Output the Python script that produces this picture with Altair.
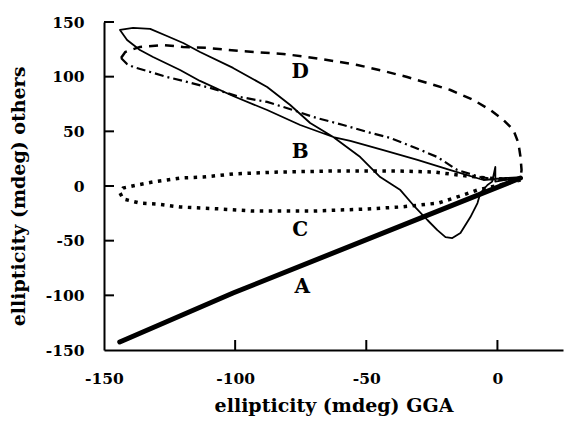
import altair as alt
import pandas as pd

# ---- data ----
A_x = [-144.0, -100.8, 8.8]
A_y = [-142.7, -97.9, 7.3]

# B: thin solid loop (right end -> spike -> dip -> upper branch -> tip -> lower branch -> right end)
B_x = [9.0, -0.8, -0.8, -2.0, -3.8, -6.5, -7.6, -10.3, -14.1, -17.2, -19.8, -22.9, -26.7, -32.1,
       -37.0, -44.7, -52.3, -62.6, -71.4, -79.0, -87.8, -100.8, -113.4, -119.8, -126.0, -132.4,
       -138.9, -143.9,
       -141.2, -136.3, -131.3, -121.0, -113.4, -100.8, -87.8, -75.2, -62.6, -56.1, -43.5, -30.5,
       -17.9, -5.3, 3.1, 9.0]
B_y = [8.0, 4.0, 17.4, 4.0, 0.9, -6.4, -15.6, -28.4, -43.0, -47.6, -46.7, -40.3, -31.1, -17.4,
       -3.7, 8.2, 26.5, 44.8, 57.6, 74.1, 90.6, 108.0, 122.6, 130.8, 137.2, 143.7,
       144.6, 142.7,
       133.6, 124.4, 118.0, 106.1, 96.1, 82.3, 69.5, 55.8, 44.8, 41.2, 32.9, 23.8,
       14.6, 5.5, 7.3, 8.0]

# C: dotted flat ellipse
C_x = [8.8, -3.8, -11.5, -24.4, -37.0, -62.6, -82.8, -100.8, -112.2, -121.0, -126.0, -131.3,
       -137.4, -142.7, -143.9, -142.7, -136.3, -129.8, -121.0, -105.7, -93.1, -70.2, -49.6,
       -37.0, -22.5, -13.0, -7.6, 1.1, 8.8]
C_y = [5.5, 7.3, 9.1, 12.8, 13.7, 13.7, 12.8, 11.0, 8.2, 7.3, 5.5, 3.7,
       0.9, -1.8, -6.4, -11.9, -15.6, -16.5, -19.2, -21.0, -22.9, -22.9, -21.0,
       -19.2, -15.6, -8.2, -3.7, 0.9, 5.5]

# D upper: dashed branch (left tip -> right end)
Du_x = [-143.5, -141.9, -136.3, -127.5, -119.8, -110.7, -98.1, -81.7, -72.5, -62.6, -53.4,
        -43.5, -34.4, -26.7, -17.9, -9.2, -2.7, 2.3, 6.1, 8.0, 8.8, 9.2, 8.8]
Du_y = [117.1, 122.6, 127.2, 129.0, 127.2, 126.3, 123.5, 120.8, 118.0, 114.4, 110.7,
        105.2, 99.7, 94.2, 87.8, 78.7, 69.5, 60.4, 51.2, 39.3, 26.5, 14.6, 7.3]

# D lower: dash-dot branch (left tip -> right end)
Dl_x = [-143.5, -141.2, -138.9, -132.4, -126.0, -119.8, -109.5, -98.1, -87.8, -77.9, -70.2,
        -58.8, -49.6, -40.8, -32.1, -22.9, -15.3, -6.5, 1.1, 8.8]
Dl_y = [117.1, 111.6, 108.9, 104.3, 99.7, 96.1, 89.7, 81.4, 76.9, 69.5, 63.1,
        55.8, 49.4, 43.9, 35.7, 26.5, 14.6, 8.2, 5.5, 7.3]

label_text = ["D", "B", "C", "A"]
label_x = [-75.2, -75.2, -75.2, -74.4]
label_y = [104.3, 31.1, -40.3, -92.4]

x_ticks = [-150, -100, -50, 0]
y_ticks = [-150, -100, -50, 0, 50, 100, 150]
x_inner_ticks = [-100, -50, 0]
y_inner_ticks = [-100, -50, 0, 50, 100, 150]

FONT = "DejaVu Serif"
HYPHEN = "datum.value < 0 ? '-' + abs(datum.value) : '' + datum.value"

def frame(xs, ys):
    return pd.DataFrame({"x": xs, "y": ys, "o": list(range(len(xs)))})

xs = alt.Scale(domain=[-150, 25], nice=False, zero=False)
ys = alt.Scale(domain=[-150, 150], nice=False, zero=False)

xenc = alt.X("x:Q", scale=xs, axis=alt.Axis(
    values=x_ticks, title="ellipticity (mdeg) GGA", grid=False, ticks=False,
    domainColor="black", domainWidth=2, labelFont=FONT, labelFontWeight="bold",
    labelFontSize=15.5, labelColor="black", labelPadding=21, labelFlush=False,
    labelExpr=HYPHEN,
    titleFont=FONT, titleFontWeight="bold", titleFontSize=19, titleColor="black",
    titlePadding=10))
yenc = alt.Y("y:Q", scale=ys, axis=alt.Axis(
    values=y_ticks, title="ellipticity (mdeg) others", grid=False, ticks=False,
    domainColor="black", domainWidth=2, labelFont=FONT, labelFontWeight="bold",
    labelFontSize=15.5, labelColor="black", labelPadding=20, labelFlush=False,
    labelExpr=HYPHEN,
    titleFont=FONT, titleFontWeight="bold", titleFontSize=19, titleColor="black",
    titleX=-76, titleY=174, titleBaseline="bottom", titleAngle=270))

def line(df, **kw):
    return alt.Chart(df).mark_line(color="black", **kw).encode(
        x=alt.X("x:Q", scale=xs), y=alt.Y("y:Q", scale=ys), order="o:Q")

base_axes = alt.Chart(frame(A_x, A_y)).mark_line(
    color="black", strokeWidth=5, strokeCap="round").encode(x=xenc, y=yenc, order="o:Q")

layerB = line(frame(B_x, B_y), strokeWidth=1.8, strokeJoin="round")
layerC = line(frame(C_x, C_y), strokeWidth=3.5, strokeDash=[3.5, 5.5], strokeCap="butt")
layerDu = line(frame(Du_x, Du_y), strokeWidth=2.5, strokeDash=[9, 7])
layerDl = line(frame(Dl_x, Dl_y), strokeWidth=2.2, strokeDash=[9, 4, 2, 4])

xt = alt.Chart(pd.DataFrame({"x": x_inner_ticks})).mark_rule(
    color="black", strokeWidth=2).encode(
    x=alt.X("x:Q", scale=xs), y=alt.value(328), y2=alt.value(318))
yt = alt.Chart(pd.DataFrame({"y": y_inner_ticks})).mark_rule(
    color="black", strokeWidth=2).encode(
    y=alt.Y("y:Q", scale=ys), x=alt.value(0), x2=alt.value(10))

labels = alt.Chart(pd.DataFrame({"t": label_text, "x": label_x, "y": label_y})).mark_text(
    font=FONT, fontWeight="bold", fontSize=20, color="black", align="center",
    baseline="middle").encode(x=alt.X("x:Q", scale=xs), y=alt.Y("y:Q", scale=ys), text="t:N")

chart = alt.layer(base_axes, layerB, layerC, layerDu, layerDl, xt, yt, labels).properties(
    width=459, height=328,
    autosize=alt.AutoSizeParams(type="none"),
    padding={"left": 104, "top": 22, "right": 1, "bottom": 73},
    background="white",
).configure_view(stroke=None)

chart.save("out.html", embed_options={"renderer": "svg", "actions": False})
